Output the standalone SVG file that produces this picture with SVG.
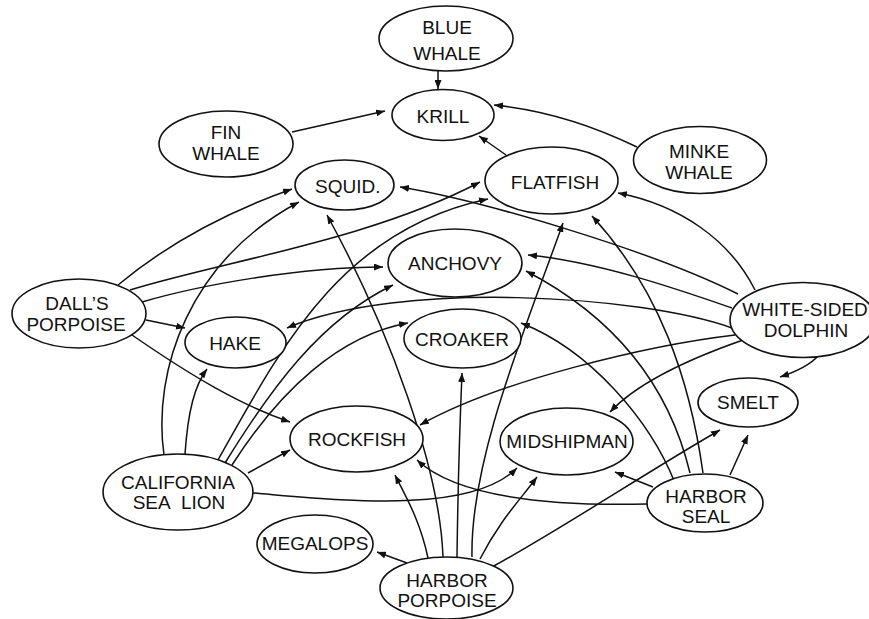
<svg xmlns="http://www.w3.org/2000/svg" width="869" height="619" viewBox="0 0 869 619">
<defs>
<marker id="ah" markerUnits="userSpaceOnUse" markerWidth="9" markerHeight="7" refX="9" refY="3.5" orient="auto">
<path d="M0,0 L9,3.5 L0,7 z" fill="#111"/>
</marker>
<style>
.n ellipse{fill:#fff;stroke:#111;stroke-width:1.6}
.n text{font-family:"Liberation Sans","DejaVu Sans",sans-serif;font-size:19px;fill:#111;text-anchor:middle}
#edges path{fill:none;stroke:#111;stroke-width:1.5;marker-end:url(#ah)}
</style>
</defs>
<rect width="869" height="619" fill="#fff"/>
<g id="edges">
<path d="M438,71 L438,89"/>
<path d="M292,132 L385,111"/>
<path d="M637,147 Q565,112 494,105"/>
<path d="M506,155 L479,136"/>
<path d="M118,285 Q190,225 292,189"/>
<path d="M130,290 C220,262 370,240 480,182"/>
<path d="M142,302 C200,285 300,267 383,267"/>
<path d="M146,320 L185,328"/>
<path d="M132,335 C190,375 240,405 290,422"/>
<path d="M164,455 C152,370 190,260 299,202"/>
<path d="M185,454 C188,410 195,385 207,369"/>
<path d="M218,460 C280,350 340,230 488,199"/>
<path d="M225,463 C270,390 320,320 393,285"/>
<path d="M232,465 C280,390 340,335 408,323"/>
<path d="M248,473 L290,450"/>
<path d="M253,493 C340,500 470,515 517,468"/>
<path d="M407,563 L377,552"/>
<path d="M428,558 C420,520 405,495 395,475"/>
<path d="M443,557 C440,470 390,330 327,215"/>
<path d="M457,557 C458,480 460,420 462,373"/>
<path d="M472,557 C470,460 525,330 563,223"/>
<path d="M480,559 C500,520 520,500 537,477"/>
<path d="M492,567 C560,530 650,470 720,430"/>
<path d="M730,475 L748,435"/>
<path d="M653,487 L615,472"/>
<path d="M647,504 C560,506 460,500 417,460"/>
<path d="M675,483 C650,420 590,350 521,323"/>
<path d="M690,473 C670,390 620,320 526,271"/>
<path d="M703,473 C690,380 660,290 592,216"/>
<path d="M755,290 C730,240 680,205 618,193"/>
<path d="M738,294 C650,250 480,200 400,187"/>
<path d="M732,308 C680,290 600,262 528,255"/>
<path d="M732,328 C640,295 400,280 287,328"/>
<path d="M735,335 C650,345 500,380 420,425"/>
<path d="M743,340 C700,355 640,380 610,412"/>
<path d="M818,356 C810,365 795,372 780,377"/>
</g>
<g id="blue-whale" class="n"><ellipse cx="446" cy="38.5" rx="67" ry="32.5"/><text x="447" y="34">BLUE</text><text x="447" y="60">WHALE</text></g>
<g id="krill" class="n"><ellipse cx="443" cy="115" rx="51" ry="25.5"/><text x="443" y="123">KRILL</text></g>
<g id="fin-whale" class="n"><ellipse cx="226" cy="144" rx="67" ry="33"/><text x="226" y="139">FIN</text><text x="226" y="160">WHALE</text></g>
<g id="minke-whale" class="n"><ellipse cx="700" cy="160" rx="66.5" ry="33.5"/><text x="699" y="158">MINKE</text><text x="699" y="179">WHALE</text></g>
<g id="squid" class="n"><ellipse cx="344.5" cy="185" rx="49.5" ry="25"/><text x="315" y="193" style="text-anchor:start">SQUID.</text></g>
<g id="flatfish" class="n"><ellipse cx="551.5" cy="180.5" rx="66.5" ry="33.5"/><text x="555" y="189">FLATFISH</text></g>
<g id="anchovy" class="n"><ellipse cx="455" cy="263" rx="67" ry="34"/><text x="455" y="270">ANCHOVY</text></g>
<g id="croaker" class="n"><ellipse cx="462.5" cy="338.5" rx="58.5" ry="29.5"/><text x="462" y="346">CROAKER</text></g>
<g id="hake" class="n"><ellipse cx="235.5" cy="342.5" rx="50.5" ry="25.5"/><text x="235" y="350">HAKE</text></g>
<g id="dalls-porpoise" class="n"><ellipse cx="79" cy="313.5" rx="67" ry="34.5"/><text x="77" y="310">DALL’S</text><text x="76" y="331">PORPOISE</text></g>
<g id="white-sided-dolphin" class="n"><ellipse cx="803" cy="320" rx="73" ry="37.5"/><text x="805" y="316">WHITE-SIDED</text><text x="806" y="337">DOLPHIN</text></g>
<g id="smelt" class="n"><ellipse cx="748" cy="402.5" rx="50" ry="24.5"/><text x="748" y="409">SMELT</text></g>
<g id="rockfish" class="n"><ellipse cx="356.5" cy="439" rx="66.5" ry="33"/><text x="357" y="446">ROCKFISH</text></g>
<g id="midshipman" class="n"><ellipse cx="566.5" cy="441.5" rx="66.5" ry="33.5"/><text x="567" y="448">MIDSHIPMAN</text></g>
<g id="california-sea-lion" class="n"><ellipse cx="178" cy="492" rx="75" ry="38"/><text x="178" y="489">CALIFORNIA</text><text x="179" y="509" style="word-spacing:6px">SEA LION</text></g>
<g id="megalops" class="n"><ellipse cx="315" cy="544" rx="58" ry="29"/><text x="315" y="550">MEGALOPS</text></g>
<g id="harbor-porpoise" class="n"><ellipse cx="446.5" cy="588" rx="66.5" ry="31"/><text x="447" y="587">HARBOR</text><text x="447" y="607">PORPOISE</text></g>
<g id="harbor-seal" class="n"><ellipse cx="705" cy="503" rx="58" ry="29"/><text x="706" y="503">HARBOR</text><text x="706" y="523">SEAL</text></g>
</svg>
